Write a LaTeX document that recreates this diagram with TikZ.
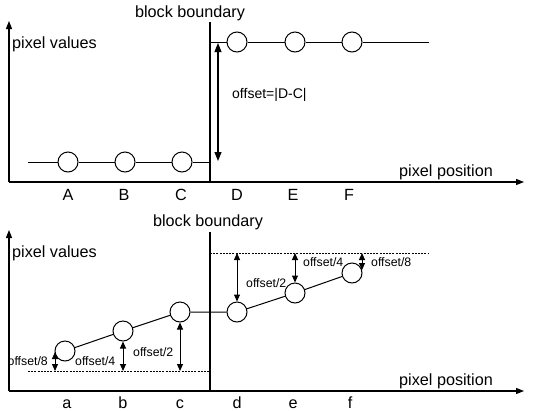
\documentclass[tikz,border=0pt]{standalone}
\usepackage{fontspec}
\setmainfont{Liberation Sans}
\usetikzlibrary{arrows.meta}
\begin{document}
\begin{tikzpicture}[x=1pt,y=-1pt,
  axis/.style={line width=1.2pt,-{Triangle[length=8pt,width=6pt]}},
  boundary/.style={line width=1.5pt},
  curve/.style={line width=1pt},
  guide/.style={line width=0.7pt,dash pattern=on 2pt off 1.2pt},
  dim/.style={line width=1pt,{Triangle[length=7pt,width=6pt]}-{Triangle[length=7pt,width=6pt]}},
  bigdim/.style={line width=1.1pt,{Triangle[length=9pt,width=7pt]}-{Triangle[length=9pt,width=7pt]}},
  pix/.style={circle,draw,line width=1pt,fill=white,minimum size=20pt,inner sep=0pt},
  big/.style={font=\fontsize{16.2}{19}\selectfont,inner sep=0pt},
  mid/.style={font=\fontsize{14}{16}\selectfont,inner sep=0pt},
  small/.style={font=\fontsize{12.3}{14}\selectfont,inner sep=0pt}]
\useasboundingbox (0,0) rectangle (545,410);

% ---------- upper panel: unfiltered step ----------
\coordinate (o1) at (9,182);
\coordinate (y1) at (9,21);
\coordinate (x1) at (524,182);
\coordinate (bt1) at (210,22);
\coordinate (bb1) at (210,182);
\draw[axis] (o1) -- (y1);
\draw[axis] (o1) -- (x1);
\draw[boundary] (bt1) -- (bb1);

\coordinate (l1) at (28,162);
\coordinate (r1) at (210,162);
\coordinate (l2) at (210,42);
\coordinate (r2) at (429,42);
\node[pix] (A) at (68,162) {};
\node[pix] (B) at (125,162) {};
\node[pix] (C) at (182,162) {};
\node[pix] (D) at (237,42) {};
\node[pix] (E) at (295,42) {};
\node[pix] (F) at (352,42) {};
\draw[curve] (l1) -- (A) -- (B) -- (C) -- (r1);
\draw[curve] (l2) -- (D) -- (E) -- (F) -- (r2);

\coordinate (ot) at (218,43);
\coordinate (ob) at (218,161);
\draw[bigdim] (ot) -- (ob);

\node[big,anchor=west] (pv1) at (12,44) {pixel values};
\node[big] (bb1t) at (190,13) {block boundary};
\node[mid,anchor=west] (off) at (232,95) {offset=|D-C|};
\node[big,anchor=west] (pp1) at (399,172) {pixel position};
\node[big] (lA) at (68,195) {A};
\node[big] (lB) at (124,195) {B};
\node[big] (lC) at (181,195) {C};
\node[big] (lD) at (237,195) {D};
\node[big] (lE) at (293,195) {E};
\node[big] (lF) at (349,195) {F};

% ---------- lower panel: filtered ramp ----------
\coordinate (o2) at (9,391);
\coordinate (y2) at (9,230);
\coordinate (x2) at (524,391);
\coordinate (bt2) at (210,232);
\coordinate (bb2) at (210,391);
\draw[axis] (o2) -- (y2);
\draw[axis] (o2) -- (x2);
\draw[boundary] (bt2) -- (bb2);

\coordinate (dl) at (28,371);
\coordinate (dr) at (210,371);
\coordinate (ul) at (210,253);
\coordinate (ur) at (429,253);
\draw[guide] (dl) -- (dr);
\draw[guide] (ul) -- (ur);

\node[pix] (a) at (65,351) {};
\node[pix] (b) at (123,331) {};
\node[pix] (c) at (180,312) {};
\node[pix] (d) at (237,312) {};
\node[pix] (e) at (295,293) {};
\node[pix] (f) at (352,273) {};
\draw[curve] (a) -- (b) -- (c) -- (d) -- (e) -- (f);

\coordinate (at) at (55,352);
\coordinate (ab) at (55,371);
\coordinate (bb) at (123,371);
\coordinate (cb) at (180,371);
\coordinate (dt) at (237,253);
\coordinate (et) at (295,253);
\coordinate (ft) at (362,253);
\coordinate (fb) at (362,270);
\draw[dim] (at) -- (ab);
\draw[dim] (b.south) -- (bb);
\draw[dim] (c.south) -- (cb);
\draw[dim] (dt) -- (d.north);
\draw[dim] (et) -- (e.north);
\draw[dim] (ft) -- (fb);

\node[small,anchor=east] (o8a) at (48,361) {offset/8};
\node[small,anchor=west] (o4a) at (75,361) {offset/4};
\node[small,anchor=west] (o2a) at (133,352) {offset/2};
\node[small,anchor=west] (o2b) at (246,283) {offset/2};
\node[small,anchor=west] (o4b) at (303,262) {offset/4};
\node[small,anchor=west] (o8b) at (371,262) {offset/8};

\node[big,anchor=west] (pv2) at (12,253) {pixel values};
\node[big] (bb2t) at (208,222) {block boundary};
\node[big,anchor=west] (pp2) at (399,381) {pixel position};
\node[big,anchor=base] (la) at (67,408) {a};
\node[big,anchor=base] (lb) at (123,408) {b};
\node[big,anchor=base] (lc) at (180,408) {c};
\node[big,anchor=base] (ld) at (237,408) {d};
\node[big,anchor=base] (le) at (293,408) {e};
\node[big,anchor=base] (lf) at (350,408) {f};
\end{tikzpicture}
\end{document}
